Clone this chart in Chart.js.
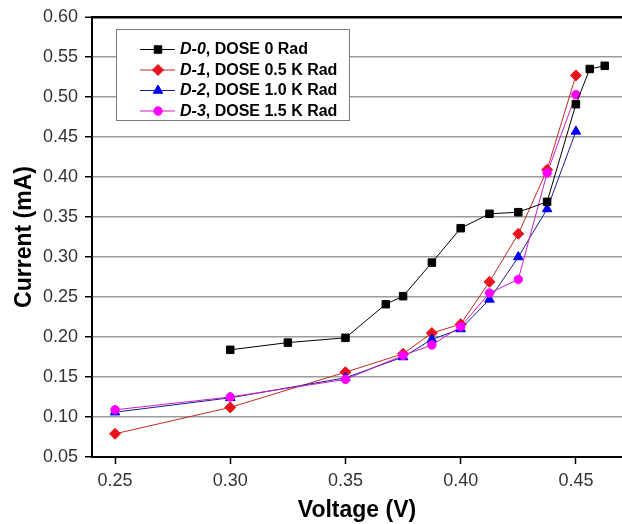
<!DOCTYPE html>
<html>
<head>
<meta charset="utf-8">
<script src="https://cdn.jsdelivr.net/npm/chart.js@4/dist/chart.umd.min.js"></script>
<style>
  html, body { margin: 0; padding: 0; background: #fff; }
  #wrap { width: 622px; height: 524px; position: relative; }
</style>
</head>
<body>
<div id="wrap"><canvas id="c" width="622" height="524"></canvas></div>
<script>
// ---- data ----
const xTicks = [0.25, 0.30, 0.35, 0.40, 0.45];
const yTicks = [0.05, 0.10, 0.15, 0.20, 0.25, 0.30, 0.35, 0.40, 0.45, 0.50, 0.55, 0.60];

const d0Voltage = [0.30, 0.325, 0.35, 0.3675, 0.375, 0.3875, 0.40, 0.4125, 0.425, 0.4375, 0.45, 0.456, 0.4625];
const d0Current = [0.184, 0.193, 0.199, 0.241, 0.251, 0.293, 0.336, 0.354, 0.356, 0.369, 0.491, 0.535, 0.539];

const dVoltage  = [0.25, 0.30, 0.35, 0.375, 0.3875, 0.40, 0.4125, 0.425, 0.4375, 0.45];
const d1Current = [0.079, 0.112, 0.156, 0.179, 0.205, 0.216, 0.269, 0.329, 0.409, 0.527];
const d2Current = [0.106, 0.124, 0.149, 0.175, 0.197, 0.210, 0.247, 0.300, 0.360, 0.457];
const d3Current = [0.109, 0.125, 0.147, 0.177, 0.190, 0.213, 0.255, 0.272, 0.405, 0.503];

const seriesNames = ["D-0", "D-1", "D-2", "D-3"];
const seriesDoses = [", DOSE 0 Rad", ", DOSE 0.5 K Rad", ", DOSE 1.0 K Rad", ", DOSE 1.5 K Rad"];

// ---- styles ----
const styles = [
  { line: '#000000', fill: '#000000', point: 'rect', radius: 5.3 },
  { line: '#c02a22', fill: '#e8131b', point: 'rectRot', radius: 5.5 },
  { line: '#1c1c8a', fill: '#0000ee', point: 'triangle', radius: 5.5 },
  { line: '#c81ec8', fill: '#ff00ff', point: 'circle', radius: 4.2 }
];
const drawOrder = [0, 3, 2, 1];

const toXY = (xs, ys) => xs.map((x, i) => ({ x: x, y: ys[i] }));
const seriesData = [
  toXY(d0Voltage, d0Current),
  toXY(dVoltage, d1Current),
  toXY(dVoltage, d2Current),
  toXY(dVoltage, d3Current)
];

const datasets = seriesData.map((data, i) => ({
  label: seriesNames[i] + seriesDoses[i],
  data: data,
  borderColor: styles[i].line,
  backgroundColor: styles[i].fill,
  borderWidth: 1,
  pointStyle: styles[i].point,
  pointRadius: styles[i].radius,
  pointHoverRadius: styles[i].radius,
  pointBackgroundColor: styles[i].fill,
  pointBorderColor: styles[i].fill,
  pointBorderWidth: 1,
  tension: 0,
  order: drawOrder[i],
  clip: false
}));

const FONT = "'Liberation Sans', Arial, sans-serif";

const legendPlugin = {
  id: 'customLegend',
  afterDraw(chart) {
    const ctx = chart.ctx;
    const box = { x: 116.5, y: 29.5, w: 233, h: 91 };
    ctx.save();
    ctx.fillStyle = '#ffffff';
    ctx.fillRect(box.x, box.y, box.w, box.h);
    ctx.strokeStyle = '#7a7a7a';
    ctx.lineWidth = 1;
    ctx.strokeRect(box.x, box.y, box.w, box.h);
    for (let i = 0; i < seriesNames.length; i++) {
      const y = 49.5 + i * 20.5;
      const st = styles[i];
      ctx.strokeStyle = st.line;
      ctx.lineWidth = 1;
      ctx.beginPath();
      ctx.moveTo(140, y);
      ctx.lineTo(175, y);
      ctx.stroke();
      ctx.fillStyle = st.fill;
      ctx.strokeStyle = st.fill;
      Chart.helpers.drawPoint(ctx, { pointStyle: st.point, radius: st.radius, rotation: 0, borderWidth: 1 }, 158, y);
      ctx.fillStyle = '#000';
      ctx.textBaseline = 'middle';
      ctx.textAlign = 'left';
      ctx.font = "italic bold 16px " + FONT;
      ctx.fillText(seriesNames[i], 180, y + 0.5);
      const w = ctx.measureText(seriesNames[i]).width;
      ctx.font = "bold 16px " + FONT;
      ctx.fillText(seriesDoses[i], 180 + w, y + 0.5);
    }
    ctx.restore();
  }
};

new Chart(document.getElementById('c'), {
  type: 'line',
  data: { datasets: datasets },
  options: {
    responsive: false,
    devicePixelRatio: 1,
    animation: false,
    layout: { autoPadding: false, padding: { top: 17, right: 0, bottom: 0, left: 0 } },
    plugins: { legend: { display: false }, tooltip: { enabled: false } },
    scales: {
      x: {
        type: 'linear',
        min: 0.24,
        max: 0.47,
        afterBuildTicks: (s) => { s.ticks = xTicks.map(v => ({ value: v })); },
        afterFit: (s) => { s.height = 67; s.paddingLeft = 0; s.paddingRight = 0; },
        ticks: {
          callback: (v) => Number(v).toFixed(2),
          font: { family: FONT, size: 18 },
          color: '#333333',
          padding: 6,
          maxRotation: 0
        },
        grid: { drawOnChartArea: false, drawTicks: true, tickLength: 7, tickColor: '#000', tickWidth: 1.5 },
        border: { display: true, color: '#000', width: 2 },
        title: {
          display: true,
          text: 'Voltage (V)',
          font: { family: FONT, size: 23, weight: 'bold' },
          color: '#000',
          padding: { top: 0, bottom: 0 }
        }
      },
      y: {
        type: 'linear',
        min: 0.05,
        max: 0.60,
        afterBuildTicks: (s) => { s.ticks = yTicks.map(v => ({ value: v })); },
        afterFit: (s) => { s.width = 92; s.paddingTop = 0; s.paddingBottom = 0; },
        ticks: {
          callback: (v) => Number(v).toFixed(2),
          font: { family: FONT, size: 18 },
          color: '#333333',
          padding: 7
        },
        grid: {
          color: (c) => (c.tick && c.tick.value >= 0.599) ? '#000000' : '#9c9c9c',
          lineWidth: (c) => (c.tick && c.tick.value >= 0.599) ? 2.5 : 1.5,
          drawTicks: true,
          tickLength: 7,
          tickColor: '#000',
          tickWidth: 1.5
        },
        border: { display: true, color: '#000', width: 2 },
        title: {
          display: true,
          text: 'Current (mA)',
          font: { family: FONT, size: 23, weight: 'bold' },
          color: '#000',
          padding: { top: 11, bottom: 0 }
        }
      }
    }
  },
  plugins: [legendPlugin]
});
</script>
</body>
</html>
